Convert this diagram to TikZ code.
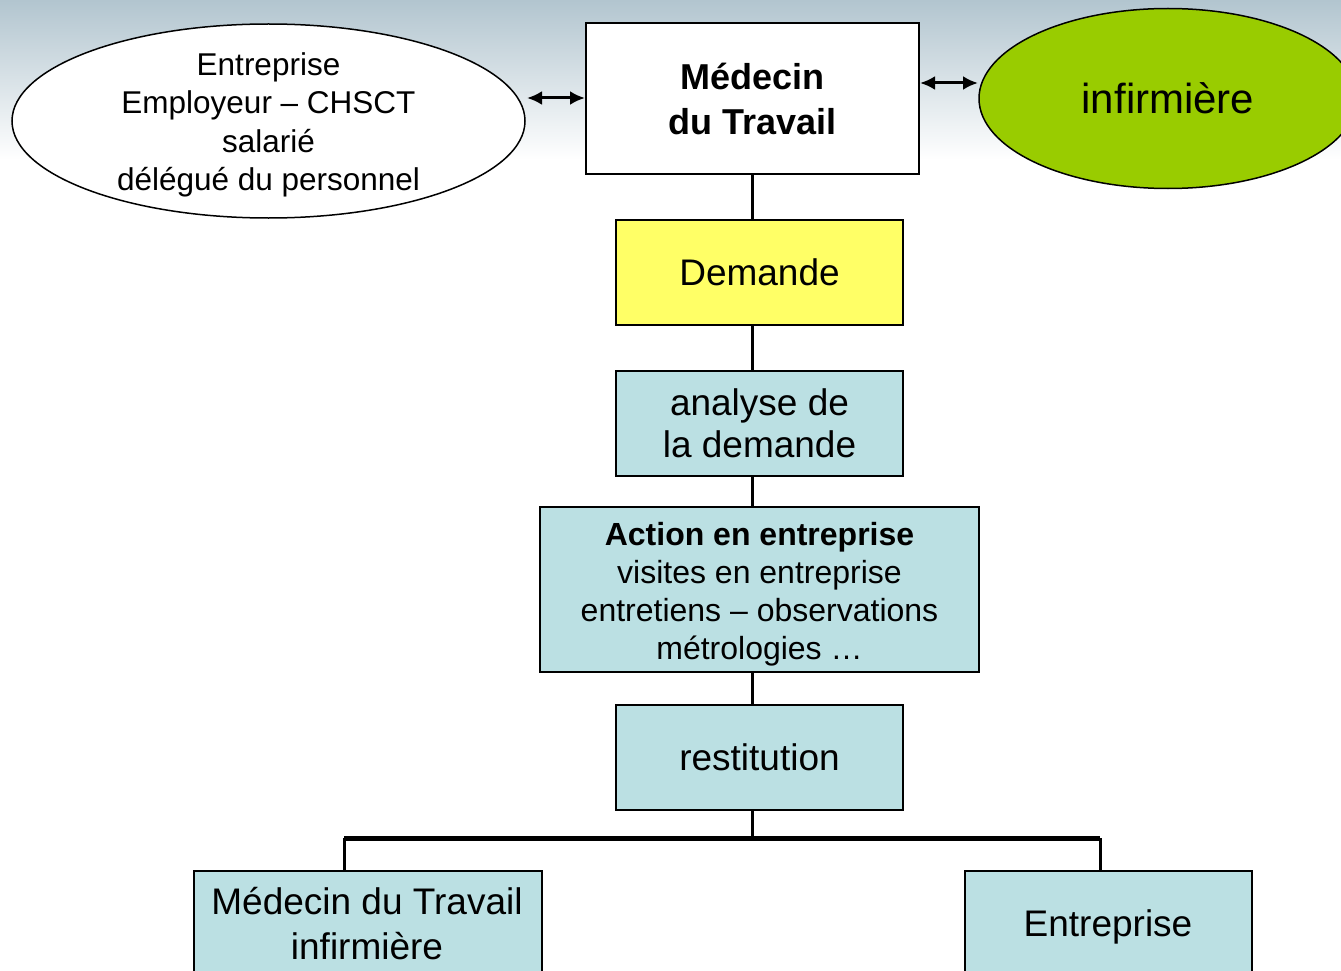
\documentclass[tikz,border=0pt]{standalone}
\usepackage{fontspec}
\setmainfont{Liberation Sans}
\usetikzlibrary{shapes.geometric,arrows.meta}
\definecolor{boxblue}{RGB}{187,224,227}
\definecolor{boxyellow}{RGB}{255,255,102}
\definecolor{nursegreen}{RGB}{153,204,0}
\definecolor{bgtop}{RGB}{178,197,207}
\tikzset{
  box/.style={draw=black, line width=1.5pt, align=center, inner sep=0pt},
  link/.style={draw=black, line width=3pt},
  tipshape/.tip={Latex[length=15pt,width=14pt]},
  biarrow/.style={draw=black, line width=3pt, arrows={tipshape-tipshape}},
}
\begin{document}
\begin{tikzpicture}[x=1pt,y=-1pt]
\clip (0,0) rectangle (1341,971);
\fill[white] (0,0) rectangle (1341,971);
\shade[top color=bgtop, bottom color=white] (0,0) rectangle (1341,160);

\coordinate (cx) at (752.5,0);
\coordinate (lx) at (344,0);
\coordinate (rx) at (1100,0);

% top row
\node[box, fill=white, minimum width=333pt, minimum height=151pt, font=\bfseries\fontsize{36}{45}\selectfont] (med) at (752.5,98.5) {Médecin\\ du Travail};
\node[draw=black, line width=1.5pt, ellipse, fill=white, minimum width=513pt, minimum height=194pt, inner sep=0pt] (ent) at (268.5,121) {};
\node[align=center, inner sep=0pt, font=\fontsize{31.5}{38.5}\selectfont] (entt) at (268.5,125) {Entreprise\\Employeur – CHSCT\\salarié\\délégué du personnel};
\node[draw=black, line width=1.5pt, ellipse, fill=nursegreen, minimum width=378pt, minimum height=180pt, inner sep=0pt, font=\fontsize{42}{48}\selectfont] (inf) at (1168,98.5) {infirmière};

\coordinate (al) at (527,98);
\coordinate (ar) at (585,98);
\draw[biarrow] (al) -- (ar);
\coordinate (bl) at (920,83);
\coordinate (br) at (978,83);
\draw[biarrow] (bl) -- (br);

% chain
\node[box, fill=boxyellow, minimum width=287pt, minimum height=105pt, font=\fontsize{37}{42}\selectfont] (dem) at (759.5,272.5) {Demande};
\node[box, fill=boxblue, minimum width=287pt, minimum height=105pt, font=\fontsize{37}{42.5}\selectfont] (ana) at (759.5,423.5) {analyse de\\la demande};
\node[box, fill=boxblue, minimum width=439pt, minimum height=165pt] (act) at (759.5,589.5) {};
\node[align=center, inner sep=0pt, font=\fontsize{32}{38}\selectfont] (actt) at (759.5,594.5) {\textbf{Action en entreprise}\\visites en entreprise\\entretiens – observations\\métrologies …};
\node[box, fill=boxblue, minimum width=287pt, minimum height=105pt, font=\fontsize{37}{42}\selectfont] (res) at (759.5,757.5) {restitution};

\draw[link] (med.south) -- (cx |- dem.north);
\draw[link] (cx |- dem.south) -- (cx |- ana.north);
\draw[link] (cx |- ana.south) -- (cx |- act.north);
\draw[link] (cx |- act.south) -- (cx |- res.north);

% bottom
\node[box, fill=boxblue, minimum width=348pt, minimum height=150pt, anchor=north west] (bot1) at (193,870) {};
\node[align=center, font=\fontsize{37}{45}\selectfont] (bot1t) at (367,924) {Médecin du Travail\\infirmière};
\node[box, fill=boxblue, minimum width=287pt, minimum height=150pt, anchor=north west] (bot2) at (964,870) {};
\node[font=\fontsize{37}{42}\selectfont] (bot2t) at (1108,927) {Entreprise};

\coordinate (hm) at (752.5,838);
\coordinate (hl) at (344,838);
\coordinate (hr) at (1100,838);
\draw[link] (cx |- res.south) -- (hm);
\draw[draw=black, line width=5pt] (hl) -- (hr);
\draw[link] (hl) -- (lx |- bot1.north);
\draw[link] (hr) -- (rx |- bot2.north);
\end{tikzpicture}
\end{document}
